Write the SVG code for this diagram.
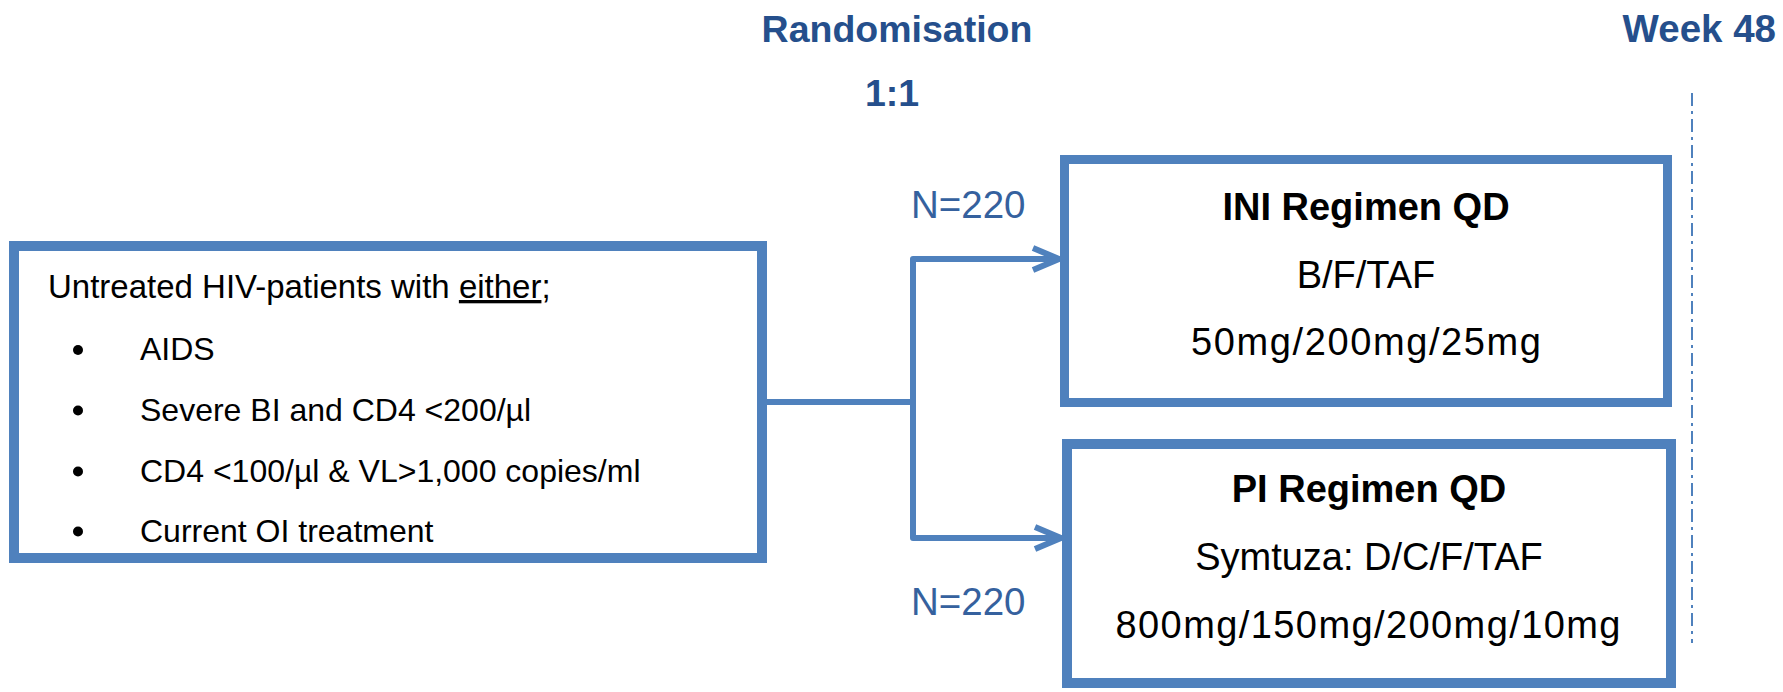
<svg xmlns="http://www.w3.org/2000/svg" width="1783" height="692" viewBox="0 0 1783 692">
<style>
.box{fill:#fff;stroke:#4F81BD}
.conn{fill:none;stroke:#4F81BD;stroke-width:6;stroke-linejoin:round}
.hdr{font-family:"Liberation Sans",Arial,sans-serif;font-weight:bold;font-size:37.5px;fill:#254F8C}
.n{font-family:"Liberation Sans",Arial,sans-serif;font-size:38.5px;fill:#35619E}
.lt{font-family:"Liberation Sans",Arial,sans-serif;font-size:33px;fill:#000}
.bt{font-size:32px}
.rt{font-family:"Liberation Sans",Arial,sans-serif;font-size:38px;fill:#000;text-anchor:middle}
.b{font-weight:bold}
</style>
<rect width="1783" height="692" fill="#fff"/>
<g id="headers">
<text class="hdr" x="897" y="42" text-anchor="middle">Randomisation</text>
<text class="hdr" x="892" y="106" text-anchor="middle">1:1</text>
<text class="hdr" x="1776" y="42" text-anchor="end" style="font-size:38.5px">Week 48</text>
</g>
<g id="week48-line">
<line x1="1692" y1="93" x2="1692" y2="643" stroke="#4F81BD" stroke-width="2" stroke-dasharray="13,5,3,5"/>
</g>
<g id="connectors">
<path class="conn" d="M767,402 H913"/>
<path class="conn" d="M1057,259 H913 V538 H1059"/>
<path class="conn" d="M1033,248 L1059,259 L1033,270"/>
<path class="conn" d="M1035,527 L1061,538 L1035,549"/>
<text class="n" x="911" y="218">N=220</text>
<text class="n" x="911" y="615">N=220</text>
</g>
<g id="patients">
<rect class="box" x="14" y="246" width="748" height="312" stroke-width="10"/>
<text class="lt" x="48" y="298">Untreated HIV-patients with <tspan style="text-decoration:underline">either</tspan>;</text>
<circle cx="78" cy="350" r="5" fill="#000"/>
<circle cx="78" cy="410.5" r="5" fill="#000"/>
<circle cx="78" cy="471.5" r="5" fill="#000"/>
<circle cx="78" cy="531.5" r="5" fill="#000"/>
<text class="lt bt" x="140" y="360">AIDS</text>
<text class="lt bt" x="140" y="421">Severe BI and CD4 &lt;200/µl</text>
<text class="lt bt" x="140" y="482">CD4 &lt;100/µl &amp; VL&gt;1,000 copies/ml</text>
<text class="lt bt" x="140" y="542">Current OI treatment</text>
</g>
<g id="ini">
<rect class="box" x="1064.5" y="159.5" width="603" height="243" stroke-width="9"/>
<text class="rt b" x="1366" y="220">INI Regimen QD</text>
<text class="rt" x="1366" y="288">B/F/TAF</text>
<text class="rt" x="1366" y="355" textLength="350">50mg/200mg/25mg</text>
</g>
<g id="pi">
<rect class="box" x="1067" y="444" width="604" height="239" stroke-width="10"/>
<text class="rt b" x="1369" y="502">PI Regimen QD</text>
<text class="rt" x="1369" y="570">Symtuza: D/C/F/TAF</text>
<text class="rt" x="1368" y="638" textLength="505">800mg/150mg/200mg/10mg</text>
</g>
</svg>
